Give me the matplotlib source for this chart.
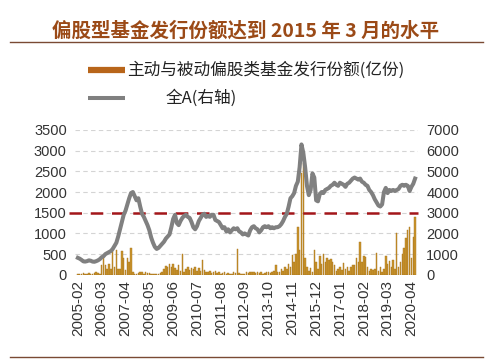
import matplotlib
matplotlib.use("Agg")
import matplotlib.pyplot as plt
import pandas as pd

# monthly, 2005-02 .. 2020-06
dates = pd.date_range("2005-02-01", periods=185, freq="MS")

# 主动与被动偏股类基金发行份额 (亿份)
issuance = [
    20, 30, 15, 40, 25, 20, 35, 30, 20, 40, 60, 50, 30,
    240, 480, 240, 150, 260, 150, 650, 200, 610, 150, 150, 570, 400, 120, 400, 300, 660, 60, 30, 20, 50,
    80, 70, 20, 60, 50, 40, 20, 10, 30, 20, 20, 40,
    60, 150, 220, 180, 250, 200, 270, 160, 120, 230, 100, 500, 80, 150, 180, 120, 160, 130, 200, 100, 170,
    90, 360, 120, 60, 80, 100, 50, 60, 90, 40, 70, 30, 50, 60, 30, 40, 20, 30, 60, 40, 620, 40, 20, 10,
    30, 60, 50, 70, 60, 80, 50, 70, 40, 60, 30, 50, 80, 70, 40, 60, 90, 240, 60, 80, 130, 100, 200, 150, 250,
    200, 480, 300, 500, 1150, 600, 2450, 2700, 400, 200, 100, 170, 80, 600, 300, 150, 450, 250, 500, 300, 400, 350, 380, 300,
    240, 100, 150, 200, 120, 280, 150, 200, 100, 180, 240, 240, 400, 300, 800, 300, 450, 420, 200, 100,
    150, 120, 150, 530, 100, 200, 80, 150, 450, 250, 330, 200, 360, 150, 1000, 200, 300, 500, 650, 900,
    1080, 1150, 400, 920, 1400,
]

# 全A (右轴)
all_a = [
    820, 780, 720, 650, 640, 660, 700, 680, 640, 630, 660,
    700, 760, 850, 900, 1000, 1050, 1100, 1150, 1250, 1400, 1550, 1850, 2200, 2550, 2900, 3100, 3400, 3700,
    3950, 4000, 3800, 3600, 3700, 3300, 2950, 2800, 2600, 2400, 2150, 1800, 1550, 1350, 1250, 1300, 1400,
    1500, 1600, 1750, 1850, 1950, 2300, 2700, 2900, 2500, 2400, 2600, 2750, 2850, 2900, 2800, 2750,
    2550, 2300, 2200, 2350, 2600, 2750, 2900, 2950, 2800, 2850, 2800, 2900, 2900, 2650, 2600, 2550, 2400,
    2250, 2300, 2100, 2200, 2050, 2150, 2250, 2200, 2250, 2100, 2050, 1950, 2000, 1950, 1900, 2150, 2300,
    2350, 2250, 2200, 2050, 2150, 2300, 2350, 2300, 2350, 2250, 2300, 2250, 2300, 2300, 2350, 2450,
    2600, 2800, 2950, 3300, 3700, 3800, 3950, 4300, 4500, 5200, 6300, 5900, 5200, 4300, 3850, 4100, 4900,
    4700, 3600, 3550, 3900, 4000, 3950, 4100, 4150, 4200, 4300, 4350, 4450, 4350, 4300, 4450, 4400, 4350,
    4250, 4400, 4450, 4550, 4650, 4700, 4650, 4600, 4650, 4500, 4450, 4350, 4300, 4100, 4000, 3850, 3650,
    3500, 3350, 3300, 3400, 4000, 4200, 3950, 4100, 4050, 4100, 4050, 4100, 4150, 4300, 4350, 4300, 4350,
    4300, 4050, 4250, 4400, 4650,
]

level = 1500  # 2015年3月水平
left_ticks = [0, 500, 1000, 1500, 2000, 2500, 3000, 3500]
right_ticks = [0, 1000, 2000, 3000, 4000, 5000, 6000, 7000]

cjk = ["Noto Sans CJK SC", "DejaVu Sans"]
num_font = "Liberation Sans"
brown = "#9b4a17"

x = list(range(len(dates)))

fig = plt.figure(figsize=(4.91, 3.64), dpi=100)
ax = fig.add_axes([0.153, 0.245, 0.698, 0.398])

ax.bar(x, issuance, width=0.8, color="#c9952c", edgecolor="#a8731c", linewidth=0.3, zorder=2)
ax.set_ylim(0, 3500)
ax.set_xlim(-1.5, 185.5)
ax.set_yticks(left_ticks)
ax.grid(axis="y", color="#d4d4d4", linestyle=(0, (4, 3)), linewidth=0.8, zorder=0)
ax.set_axisbelow(True)

tick_pos = x[::13]
ax.set_xticks(tick_pos)
ax.set_xticklabels([dates[i].strftime("%Y-%m") for i in tick_pos], rotation=90)

ax2 = ax.twinx()
ax2.plot([-5, 185.5], [level * 2, level * 2], color="#a3161a", linestyle=(0, (5, 3.5)),
         linewidth=1.8, clip_on=False, zorder=2)
ax2.plot(x, all_a, color="#808080", linewidth=2.9, zorder=3)
ax2.set_ylim(0, 7000)
ax2.set_yticks(right_ticks)

for a in (ax, ax2):
    for s in a.spines.values():
        s.set_visible(False)
    a.tick_params(length=0, labelsize=10.5, colors="#333333")
    for lab in a.get_xticklabels() + a.get_yticklabels():
        lab.set_fontfamily(num_font)
ax.tick_params(axis="y", pad=6)
ax2.tick_params(axis="y", pad=6)
ax.tick_params(axis="x", pad=4, labelsize=11)

# title and rules
fig.text(0.5, 0.915, "偏股型基金发行份额达到 2015 年 3 月的水平", ha="center", va="center",
         fontsize=14, fontweight="bold", color=brown, family=cjk)
fig.add_artist(plt.Line2D([0.02, 0.984], [0.885, 0.885], color="#7a4a33", linewidth=1))
fig.add_artist(plt.Line2D([0.02, 0.984], [0.018, 0.018], color="#7a4a33", linewidth=1))

# legend (manual)
fig.add_artist(plt.Line2D([0.18, 0.254], [0.808, 0.808], color="#b8651a", linewidth=4.5,
                          solid_capstyle="butt"))
fig.text(0.258, 0.808, "主动与被动偏股类基金发行份额(亿份)", ha="left", va="center",
         fontsize=12, color="#222222", family=cjk)
fig.add_artist(plt.Line2D([0.18, 0.254], [0.731, 0.731], color="#808080", linewidth=2.9,
                          solid_capstyle="butt"))
fig.text(0.338, 0.731, "全A(右轴)", ha="left", va="center",
         fontsize=12, color="#222222", family=cjk)

fig.savefig("out.png", dpi=100)
